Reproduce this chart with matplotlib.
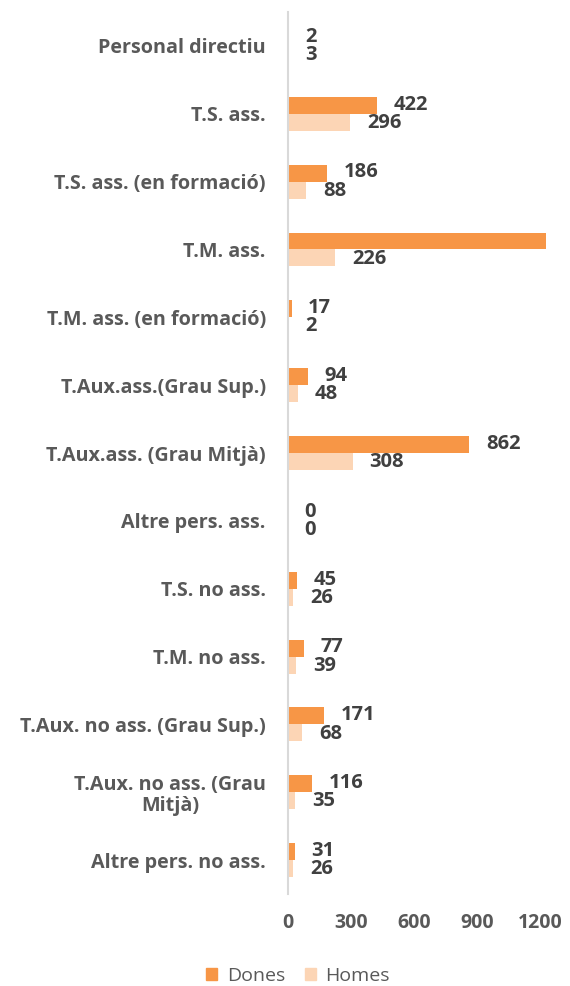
import matplotlib
matplotlib.use("Agg")
import matplotlib.pyplot as plt
from matplotlib.patches import Patch

categories = [
    "Personal directiu",
    "T.S. ass.",
    "T.S. ass. (en formació)",
    "T.M. ass.",
    "T.M. ass. (en formació)",
    "T.Aux.ass.(Grau Sup.)",
    "T.Aux.ass. (Grau Mitjà)",
    "Altre pers. ass.",
    "T.S. no ass.",
    "T.M. no ass.",
    "T.Aux. no ass. (Grau Sup.)",
    "T.Aux. no ass. (Grau\nMitjà)",
    "Altre pers. no ass.",
]
dones = [2, 422, 186, 1300, 17, 94, 862, 0, 45, 77, 171, 116, 31]
homes = [3, 296, 88, 226, 2, 48, 308, 0, 26, 39, 68, 35, 26]
xticks = [0, 300, 600, 900, 1200]

c_dones = "#F79646"
c_homes = "#FCD5B5"
label_col = "#404040"
axis_col = "#595959"
FONT = "Open Sans"

fig = plt.figure(figsize=(5.70, 9.86), dpi=100)
ax = fig.add_axes([288 / 570, 1 - 894 / 986, (546 - 288) / 570, 882 / 986])

XMAX = 1228
n = len(categories)
pos = list(range(n))
h = 0.25
ax.barh([p - h / 2 for p in pos], dones, height=h, color=c_dones, zorder=2)
ax.barh([p + h / 2 for p in pos], homes, height=h, color=c_homes, zorder=2)

for p, d, m in zip(pos, dones, homes):
    if d <= XMAX:
        ax.annotate(str(d), (d, p - h / 2), xytext=(12, 0.5), textcoords="offset points",
                    ha="left", va="center", fontsize=14.5, fontweight="bold",
                    color=label_col, family=FONT)
    if m <= XMAX:
        ax.annotate(str(m), (m, p + h / 2), xytext=(12, -0.5), textcoords="offset points",
                    ha="left", va="center", fontsize=14.5, fontweight="bold",
                    color=label_col, family=FONT)

ax.set_xlim(0, XMAX)
ax.set_ylim(n - 0.5, -0.5)
ax.set_yticks(pos)
ax.set_yticklabels(categories, fontsize=14.2, fontweight="bold", color=axis_col,
                   family=FONT, multialignment="center", linespacing=1.1)
ax.set_xticks(xticks)
ax.set_xticklabels([str(t) for t in xticks], fontsize=14, fontweight="bold",
                   color=axis_col, family=FONT)
ax.tick_params(axis="y", length=0, pad=16)
ax.tick_params(axis="x", length=0, pad=14)

for s in ["top", "right", "bottom"]:
    ax.spines[s].set_visible(False)
ax.spines["left"].set_color("#D9D9D9")
ax.spines["left"].set_linewidth(1.5)

handles = [Patch(color=c_dones, label="Dones"), Patch(color=c_homes, label="Homes")]
leg = fig.legend(handles=handles, loc="center", bbox_to_anchor=(298 / 570, 1 - 976 / 986),
                 ncol=2, frameon=False, prop={"family": FONT, "size": 14},
                 handlelength=0.57, handleheight=0.57, handletextpad=0.5,
                 columnspacing=1.0, borderpad=0, borderaxespad=0)
for t in leg.get_texts():
    t.set_color(axis_col)

fig.savefig("out.png", dpi=100)
